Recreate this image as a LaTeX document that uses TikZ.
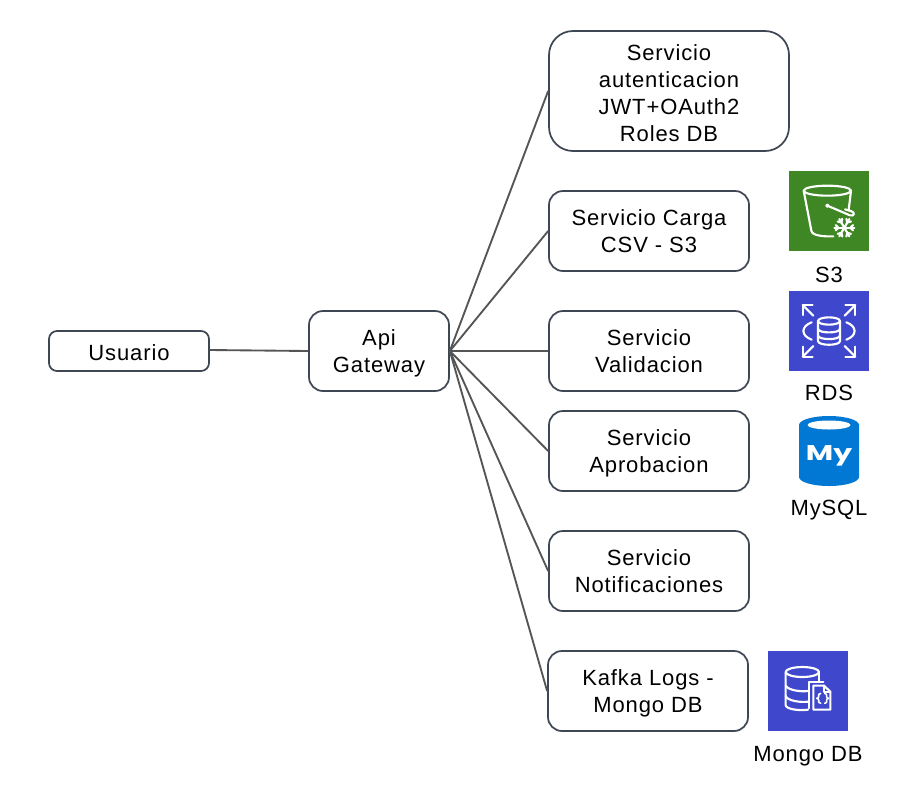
\documentclass[tikz,border=0pt]{standalone}
\usepackage{fontspec}
\setmainfont[LetterSpace=4,RawFeature=-liga]{Liberation Sans}
\newfontfamily\logofont{Poppins}
\newcommand\linetop[1][16.8pt]{\rule{0pt}{#1}}
\newcommand\lineend{\rule[-5pt]{0pt}{5pt}}
\definecolor{boxline}{HTML}{3F4754}
\definecolor{conn}{HTML}{555555}
\definecolor{awsgreen}{HTML}{3F8624}
\definecolor{awsblue}{HTML}{3F48CC}
\definecolor{mysqlblue}{HTML}{0078D4}
\tikzset{
  box/.style={draw=boxline,line width=1.3pt,fill=white,inner sep=0pt,align=center,text=black,
    font=\fontsize{16.5}{20.25}\selectfont,minimum height=#1*.75pt},
  conn/.style={draw=conn,line width=1.4pt},
  iconlabel/.style={inner sep=0pt,text=black,font=\fontsize{16.5}{20.25}\selectfont},
  iconline/.style={draw=white,line width=1.6pt,line cap=round,line join=round},
  iconsquare/.style={inner sep=0pt,minimum width=60pt,minimum height=60pt},
}
\begin{document}
\begin{tikzpicture}[x=.75pt,y=-.75pt]
\useasboundingbox (0,0) rectangle (910,808);
\fill[white] (0,0) rectangle (910,808);
% boxes
\node[box=40,rounded corners=6pt,minimum width=120pt] (usuario) at (129,351) {\linetop[19.8pt]Usuario\lineend};
\node[box=80,rounded corners=10.5pt,minimum width=105pt] (gateway) at (379,351) {\linetop Api\\Gateway\lineend};
\node[box=120,rounded corners=18pt,minimum width=180pt] (auth) at (669,91) {\linetop[19.8pt]Servicio\\autenticacion\\JWT+OAuth2\\Roles DB\lineend};
\node[box=80,rounded corners=10.5pt,minimum width=150pt] (carga) at (649,231) {\linetop Servicio Carga\\CSV - S3\lineend};
\node[box=80,rounded corners=10.5pt,minimum width=150pt] (valid) at (649,351) {\linetop Servicio\\Validacion\lineend};
\node[box=80,rounded corners=10.5pt,minimum width=150pt] (aprob) at (649,451) {\linetop Servicio\\Aprobacion\lineend};
\node[box=80,rounded corners=10.5pt,minimum width=150pt] (notif) at (649,571) {\linetop Servicio\\Notificaciones\lineend};
\node[box=80,rounded corners=10.5pt,minimum width=150pt] (kafka) at (648,691) {\linetop Kafka Logs -\\Mongo DB\lineend};
% connectors
\coordinate (jog) at (259,350.5);
\draw[conn] (usuario.east) ++(0,-1) -- (jog) -- (gateway.west);
\foreach \t in {auth,carga,valid,aprob,notif,kafka}
  \draw[conn] (gateway.east) -- (\t.west);
% S3
\node[iconsquare,fill=awsgreen] (s3icon) at (829,211) {};
\node[iconlabel] (s3label) at (829,275) {S3};
\begin{scope}[shift={(770,160)},x=.25pt,y=-.25pt,iconline]
  \draw (172,92) ellipse [x radius=71,y radius=15];
  \draw (101,92) -- (124,212) .. controls (126,228) and (165,230) .. (190,229);
  \draw (243,92) -- (236,150);
  \draw (172,137) -- (240,166) .. controls (252,170) and (256,158) .. (245,154) -- (225,148);
  \fill[white,draw=none] (172,137) circle (6);
  \foreach \a in {0,60,120} {
    \draw[rotate around={\a:(223,203)}] (193,203) -- (253,203);
    \draw[rotate around={\a:(223,203)}] (197,195) -- (205,203) -- (197,211);
    \draw[rotate around={\a:(223,203)}] (249,195) -- (241,203) -- (249,211);
  }
\end{scope}
% RDS
\node[iconsquare,fill=awsblue] (rdsicon) at (829,331) {};
\node[iconlabel] (rdslabel) at (829,393) {RDS};
\begin{scope}[shift={(770,285)},x=.25pt,y=-.25pt,iconline]
  \draw (130,92) -- (98,60); \draw (128,60) -- (98,60) -- (98,90);
  \draw (224,92) -- (256,60); \draw (226,60) -- (256,60) -- (256,90);
  \draw (130,183) -- (98,215); \draw (128,215) -- (98,215) -- (98,185);
  \draw (224,183) -- (256,215); \draw (226,215) -- (256,215) -- (256,185);
  \draw (177,108) ellipse [x radius=33,y radius=11];
  \draw (144,108) -- (144,168) .. controls (144,183) and (210,183) .. (210,168) -- (210,108);
  \draw (144,131) .. controls (144,146) and (210,146) .. (210,131);
  \draw (144,151) .. controls (144,166) and (210,166) .. (210,151);
  \draw (125,112) .. controls (92,124) and (92,152) .. (125,164);
  \draw (229,112) .. controls (262,124) and (262,152) .. (229,164);
\end{scope}
% MySQL
\fill[mysqlblue] (799,425) arc [start angle=180,end angle=360,x radius=30,y radius=9]
  -- (859,477) arc [start angle=0,end angle=180,x radius=30,y radius=9] -- cycle;
\fill[white] (829,425) ellipse [x radius=21.5,y radius=4.5];
\node[inner sep=0pt,anchor=base,text=white,xscale=1.4,font=\fontsize{16}{16}\logofont\bfseries\selectfont] (mylogo) at (829,460) {My};
\node[iconlabel] (mysqllabel) at (829,510) {MySQL};
% Mongo
\node[iconsquare,fill=awsblue] (mongoicon) at (808,691) {};
\node[iconlabel] (mongolabel) at (808,756) {Mongo DB};
\begin{scope}[shift={(750,640)},x=.25pt,y=-.25pt,iconline]
  \draw (157,96) ellipse [x radius=50,y radius=15];
  \draw (107,96) -- (107,195) .. controls (107,207) and (145,213) .. (174,209);
  \draw (207,96) -- (207,122);
  \draw (107,136) .. controls (112,150) and (150,156) .. (174,153);
  \draw (107,168) .. controls (112,182) and (150,188) .. (174,185);
  \draw (176,205) -- (176,125) -- (220,125);
  \draw (190,209) -- (241,209) -- (241,155) -- (222,137) -- (190,137) -- cycle;
  \draw (222,137) -- (222,155) -- (241,155);
  \draw[line width=1.2pt] (212,160) .. controls (205,160) and (206,165) .. (206,170) .. controls (206,173) and (203,175) .. (200,175) .. controls (203,175) and (206,177) .. (206,180) .. controls (206,185) and (205,190) .. (212,190);
  \draw[line width=1.2pt] (224,160) .. controls (231,160) and (230,165) .. (230,170) .. controls (230,173) and (233,175) .. (236,175) .. controls (233,175) and (230,177) .. (230,180) .. controls (230,185) and (231,190) .. (224,190);
\end{scope}
\end{tikzpicture}
\end{document}
